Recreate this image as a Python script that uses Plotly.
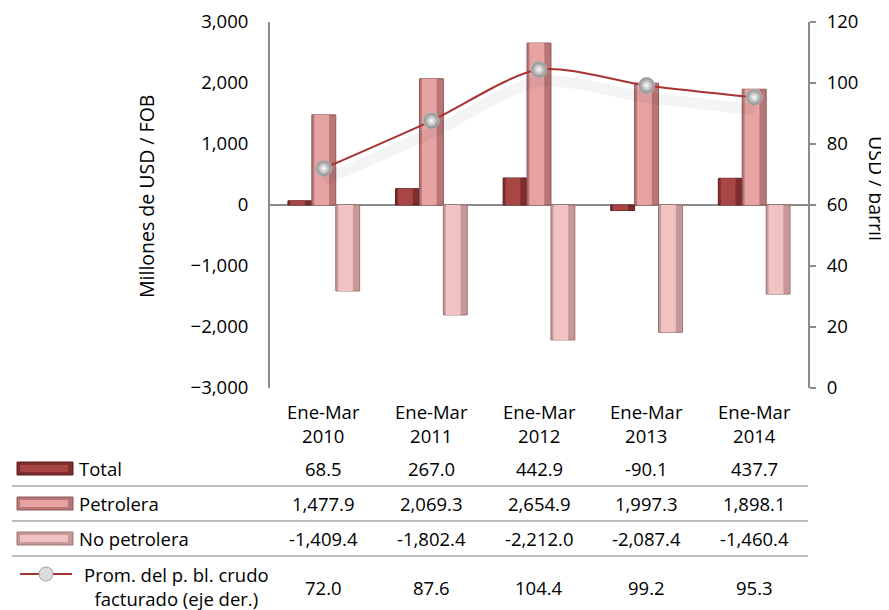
import plotly.graph_objects as go

categories = ["Ene-Mar<br>2010", "Ene-Mar<br>2011", "Ene-Mar<br>2012", "Ene-Mar<br>2013", "Ene-Mar<br>2014"]
total = [68.5, 267.0, 442.9, -90.1, 437.7]
petrolera = [1477.9, 2069.3, 2654.9, 1997.3, 1898.1]
no_petrolera = [-1409.4, -1802.4, -2212.0, -2087.4, -1460.4]
precio = [72.0, 87.6, 104.4, 99.2, 95.3]

series_names = ["Total", "Petrolera", "No petrolera", "Prom. del p. bl. crudo<br>facturado (eje der.)"]
left_ticks = [-3000, -2000, -1000, 0, 1000, 2000, 3000]
right_ticks = [0, 20, 40, 60, 80, 100, 120]

FONT = "Open Sans"
FS = 18.5
OFF = 8  # default page body margin
W, H = 889 - OFF, 610 - OFF
PL, PT, PW, PH = 270, 22, 538, 366  # plot area in page pixels
L, T = PL - OFF, PT - OFF
R = W - L - PW
B = H - T - PH

def px(x):
    return (x - PL) / PW

def py(y):
    return (PT + PH - y) / PH

x = list(range(len(categories)))

# (base, highlight, outline)
styles = [
    ("#7E2C2C", "#A84646", "#5A1E1E"),
    ("#B87676", "#E7A2A2", "#8E5858"),
    ("#C69898", "#F0C2C2", "#9A7676"),
]
bar_w = 2 / 9
offsets = [-1 / 3, -1 / 9, 1 / 9]
series = [total, petrolera, no_petrolera]

fig = go.Figure()
for k, vals in enumerate(series):
    base, hi, outl = styles[k]
    fig.add_bar(x=x, y=vals, name=series_names[k], width=bar_w, offset=offsets[k],
                marker=dict(color=base, line=dict(color=outl, width=1)))
    fig.add_bar(x=x, y=vals, name=series_names[k], width=bar_w * 0.62, offset=offsets[k] + bar_w * 0.1,
                marker=dict(color=hi, line=dict(width=0)), hoverinfo="skip")

# soft shadow under the price line
fig.add_scatter(x=x, y=precio, yaxis="y3", mode="lines", hoverinfo="skip",
                line=dict(color="rgba(0,0,0,0.045)", width=11, shape="spline", smoothing=0.8))
fig.add_scatter(x=x, y=precio, yaxis="y2", mode="lines+markers", name="precio",
                line=dict(color="#A83232", width=2, shape="spline", smoothing=0.8),
                marker=dict(size=16, color="#8A8A8A", line=dict(color="#B5B5B5", width=1),
                            gradient=dict(type="radial", color="#FFFFFF")))

shift = 12 * 120 / PH
fig.update_layout(
    width=W, height=H, margin=dict(l=L, r=R, t=T, b=B, autoexpand=False),
    paper_bgcolor="white", plot_bgcolor="white",
    showlegend=False, barmode="overlay",
    font=dict(family=FONT, size=FS, color="#000000"),
    xaxis=dict(range=[-0.5, 4.5], showticklabels=False, showgrid=False, zeroline=False, showline=False,
               ticks="", automargin=False),
    yaxis=dict(range=[-3000, 3000], tickvals=left_ticks, tickformat=",d", showgrid=False,
               zeroline=True, zerolinecolor="#8C8C8C", zerolinewidth=1.5, automargin=False,
               showline=True, linecolor="#8C8C8C", linewidth=2, ticks="", ticklabelstandoff=16,
               ticklabeloverflow="allow"),
    yaxis2=dict(range=[0, 120], tickvals=right_ticks, overlaying="y", side="right", showgrid=False,
                zeroline=False, showline=True, linecolor="#8C8C8C", linewidth=2, automargin=False,
                ticks="outside", ticklen=6, tickcolor="#8C8C8C", tickwidth=1.5, ticklabelstandoff=7,
                ticklabeloverflow="allow"),
    yaxis3=dict(range=[shift, 120 + shift], overlaying="y", visible=False),
)

def note(text, xv, yv, xref="paper", xanchor="center", **kw):
    return dict(text=text, xref=xref, yref="paper", x=xv, y=yv, xanchor=xanchor, yanchor="middle",
                showarrow=False, **kw)

ann = []
ann.append(note("Millones de USD / FOB", px(146), py(197), textangle=-90, font=dict(size=19.5)))
ann.append(note("USD / barril", px(876), py(188), textangle=90, font=dict(size=19.5)))
for i, c in enumerate(categories):
    ann.append(note(c, i, py(423), xref="x"))

row_y = [468, 503, 538, 587]
rows = [total, petrolera, no_petrolera, precio]
for r, vals in enumerate(rows):
    for i, v in enumerate(vals):
        ann.append(note(f"{v:,.1f}", i, py(row_y[r]), xref="x"))
label_y = [468, 503, 538, 586]
for r, name in enumerate(series_names):
    if r < 3:
        ann.append(note(name, px(77), py(label_y[r]), xanchor="left"))
    else:
        ann.append(note(name, px(176), py(label_y[r])))

shapes = []
for sy in [486, 521, 556]:
    shapes.append(dict(type="line", xref="paper", yref="paper", x0=px(12), x1=px(808), y0=py(sy), y1=py(sy),
                       line=dict(color="#A6A6A6", width=1.5)))
for r, (base, hi, outl) in enumerate(styles):
    yc = label_y[r]
    shapes.append(dict(type="rect", xref="paper", yref="paper", x0=px(17), x1=px(73), y0=py(yc - 6), y1=py(yc + 7),
                       fillcolor=base, line=dict(color=outl, width=1)))
    shapes.append(dict(type="rect", xref="paper", yref="paper", x0=px(20), x1=px(68), y0=py(yc - 3), y1=py(yc + 4),
                       fillcolor=hi, line=dict(width=0)))
shapes.append(dict(type="line", xref="paper", yref="paper", x0=px(20), x1=px(72), y0=py(574), y1=py(574),
                   line=dict(color="#A83232", width=2)))
shapes.append(dict(type="circle", xref="paper", yref="paper", x0=px(39), x1=px(53), y0=py(567), y1=py(581),
                   fillcolor="#DDDDDD", line=dict(color="#A0A0A0", width=1)))

fig.update_layout(annotations=ann, shapes=shapes)
fig.write_html("out.html")
